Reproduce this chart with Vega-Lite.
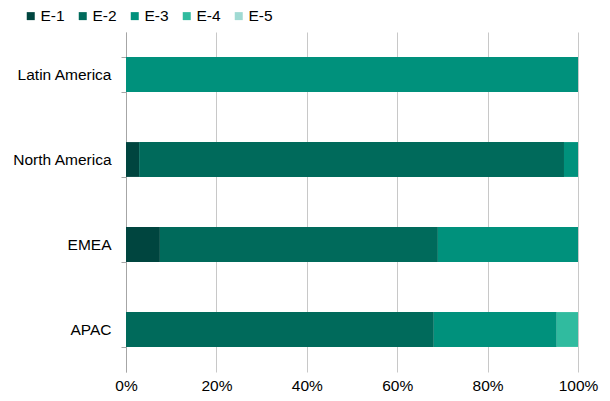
{
  "$schema": "https://vega.github.io/schema/vega-lite/v6.json",
  "autosize": "none",
  "width": 452,
  "height": 340,
  "padding": {"left": 126, "top": 32, "right": 32, "bottom": 29},
  "background": "white",
  "config": {
    "font": "Liberation Sans",
    "view": {"stroke": null}
  },
  "data": {
    "values": [
      {"region": "Latin America", "class": "E-3", "pct": 100},
      {"region": "North America", "class": "E-1", "pct": 2.9},
      {"region": "North America", "class": "E-2", "pct": 94.0},
      {"region": "North America", "class": "E-3", "pct": 3.1},
      {"region": "EMEA", "class": "E-1", "pct": 7.5},
      {"region": "EMEA", "class": "E-2", "pct": 61.5},
      {"region": "EMEA", "class": "E-3", "pct": 31.0},
      {"region": "APAC", "class": "E-2", "pct": 68.1},
      {"region": "APAC", "class": "E-3", "pct": 27.2},
      {"region": "APAC", "class": "E-4", "pct": 4.7},
      {"region": "APAC", "class": "E-5", "pct": 0}
    ]
  },
  "mark": {"type": "bar"},
  "encoding": {
    "y": {
      "field": "region",
      "type": "nominal",
      "sort": ["Latin America", "North America", "EMEA", "APAC"],
      "scale": {"paddingInner": 0.59, "paddingOuter": 0.295},
      "axis": {
        "title": null,
        "tickBand": "extent",
        "domainColor": "#A6A6A6",
        "tickColor": "#A6A6A6",
        "tickSize": 5,
        "labelFontSize": 15.5,
        "labelColor": "#000000",
        "labelPadding": 10,
        "grid": false
      }
    },
    "x": {
      "field": "pct",
      "type": "quantitative",
      "stack": "normalize",
      "scale": {"domain": [0, 1], "nice": false},
      "axis": {
        "title": null,
        "format": ".0%",
        "values": [0, 0.2, 0.4, 0.6, 0.8, 1],
        "domain": false,
        "ticks": false,
        "grid": true,
        "gridColor": "#C8C8C8",
        "labelFlush": false,
        "labelOverlap": false,
        "labelFontSize": 15.5,
        "labelColor": "#000000",
        "labelPadding": 6
      }
    },
    "color": {
      "field": "class",
      "type": "nominal",
      "scale": {
        "domain": ["E-1", "E-2", "E-3", "E-4", "E-5"],
        "range": ["#00453F", "#006A5B", "#00917C", "#30BB9F", "#A0DAD3"]
      },
      "legend": {
        "title": null,
        "orient": "none",
        "direction": "horizontal",
        "legendX": -103,
        "legendY": -24,
        "padding": 0,
        "symbolType": "square",
        "symbolSize": 64,
        "symbolStrokeWidth": 0,
        "labelFontSize": 15.5,
        "labelColor": "#000000",
        "labelOffset": 2,
        "columnPadding": 10
      }
    },
    "order": {"field": "class", "sort": "ascending"}
  }
}
